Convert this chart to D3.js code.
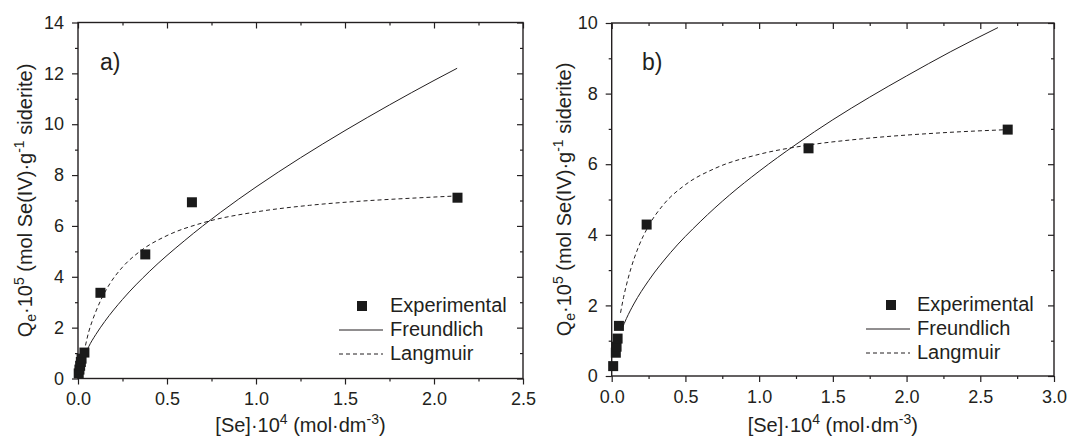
<!DOCTYPE html>
<html><head><meta charset="utf-8">
<script src="https://cdn.jsdelivr.net/npm/d3@7"></script>
<style>
body{margin:0;background:#fff;}
svg text{font-family:"Liberation Sans",Arial,sans-serif;fill:#231f20;}
</style></head><body>
<svg id="chart" width="1069" height="437"></svg>
<script>
// ---------- Panel a data ----------
const aExpX = [0.004, 0.008, 0.012, 0.016, 0.020, 0.036, 0.126, 0.378, 0.640, 2.132];
const aExpY = [0.20, 0.35, 0.50, 0.65, 0.78, 1.02, 3.37, 4.88, 6.93, 7.11];
const aFreX = [0.05, 0.06, 0.10, 0.15, 0.25, 0.40, 0.60, 0.80, 1.00, 1.25, 1.50, 1.75, 2.00, 2.13];
const aFreY = [1.10, 1.25, 1.73, 2.24, 3.11, 4.20, 5.43, 6.53, 7.53, 8.68, 9.75, 10.76, 11.72, 12.20];
const aLanX = [0.042, 0.06, 0.08, 0.10, 0.13, 0.18, 0.25, 0.35, 0.50, 0.70, 1.00, 1.30, 1.60, 1.90, 2.13];
const aLanY = [1.30, 1.83, 2.26, 2.63, 3.11, 3.74, 4.38, 5.01, 5.62, 6.12, 6.55, 6.81, 6.98, 7.10, 7.18];
const aXTicks = [0, 0.5, 1.0, 1.5, 2.0, 2.5];
const aXMinor = [0.25, 0.75, 1.25, 1.75, 2.25];
const aYTicks = [0, 2, 4, 6, 8, 10, 12, 14];
const aYMinor = [1, 3, 5, 7, 9, 11, 13];

// ---------- Panel b data ----------
const bExpX = [0.010, 0.028, 0.033, 0.040, 0.049, 0.237, 1.335, 2.686];
const bExpY = [0.28, 0.66, 0.83, 1.06, 1.42, 4.29, 6.45, 6.98];
const bFreX = [0.07, 0.10, 0.15, 0.25, 0.40, 0.60, 0.80, 1.00, 1.25, 1.50, 1.75, 2.00, 2.30, 2.62];
const bFreY = [1.34, 1.63, 2.04, 2.70, 3.50, 4.37, 5.13, 5.80, 6.56, 7.26, 7.90, 8.50, 9.19, 9.87];
const bLanX = [0.06, 0.08, 0.10, 0.13, 0.18, 0.25, 0.35, 0.50, 0.70, 1.00, 1.30, 1.70, 2.20, 2.69];
const bLanY = [1.79, 2.22, 2.58, 3.04, 3.64, 4.25, 4.85, 5.42, 5.88, 6.28, 6.52, 6.72, 6.88, 6.98];
const bXTicks = [0, 0.5, 1.0, 1.5, 2.0, 2.5, 3.0];
const bXMinor = [0.25, 0.75, 1.25, 1.75, 2.25, 2.75];
const bYTicks = [0, 2, 4, 6, 8, 10];
const bYMinor = [1, 3, 5, 7, 9];

const legendLabels = ["Experimental", "Freundlich", "Langmuir"];
const panelLabels = ["a)", "b)"];

const svg = d3.select("#chart");
const ink = "#231f20";

function drawPanel(cfg) {
  const x = d3.scaleLinear().domain(cfg.xDomain).range([cfg.left, cfg.right]);
  const y = d3.scaleLinear().domain(cfg.yDomain).range([cfg.bottom, cfg.top]);
  const g = svg.append("g");

  const fmt = d3.format(".1f");
  const bx = g.append("g").attr("transform", `translate(0,${cfg.bottom})`)
    .call(d3.axisBottom(x).tickValues(cfg.xTicks).tickFormat(fmt).tickSize(6).tickSizeOuter(0).tickPadding(8));
  const bxm = g.append("g").attr("transform", `translate(0,${cfg.bottom})`)
    .call(d3.axisBottom(x).tickValues(cfg.xMinor).tickFormat("").tickSize(3).tickSizeOuter(0));
  const tx = g.append("g").attr("transform", `translate(0,${cfg.top})`)
    .call(d3.axisBottom(x).tickValues(cfg.xTicks).tickFormat("").tickSize(6).tickSizeOuter(0));
  const txm = g.append("g").attr("transform", `translate(0,${cfg.top})`)
    .call(d3.axisBottom(x).tickValues(cfg.xMinor).tickFormat("").tickSize(3).tickSizeOuter(0));
  const ly = g.append("g").attr("transform", `translate(${cfg.left},0)`)
    .call(d3.axisLeft(y).tickValues(cfg.yTicks).tickFormat(d3.format("d")).tickSize(6).tickSizeOuter(0).tickPadding(8));
  const lym = g.append("g").attr("transform", `translate(${cfg.left},0)`)
    .call(d3.axisLeft(y).tickValues(cfg.yMinor).tickFormat("").tickSize(3).tickSizeOuter(0));
  const ry = g.append("g").attr("transform", `translate(${cfg.right},0)`)
    .call(d3.axisLeft(y).tickValues(cfg.yTicks).tickFormat("").tickSize(6).tickSizeOuter(0));
  const rym = g.append("g").attr("transform", `translate(${cfg.right},0)`)
    .call(d3.axisLeft(y).tickValues(cfg.yMinor).tickFormat("").tickSize(3).tickSizeOuter(0));

  [bx, bxm, tx, txm, ly, lym, ry, rym].forEach(a => {
    a.select(".domain").remove();
    a.selectAll("line").attr("stroke", ink).attr("stroke-width", 1.2);
    a.selectAll("text").attr("font-size", 18).attr("fill", ink)
      .attr("font-family", '"Liberation Sans", Arial, sans-serif');
  });

  g.append("rect").attr("x", cfg.left).attr("y", cfg.top)
    .attr("width", cfg.right - cfg.left).attr("height", cfg.bottom - cfg.top)
    .attr("fill", "none").attr("stroke", ink).attr("stroke-width", 1.4);

  const line = d3.line().x(d => x(d[0])).y(d => y(d[1])).curve(d3.curveMonotoneX);
  g.append("path").datum(d3.zip(cfg.freX, cfg.freY)).attr("d", line)
    .attr("fill", "none").attr("stroke", ink).attr("stroke-width", 1);
  g.append("path").datum(d3.zip(cfg.lanX, cfg.lanY)).attr("d", line)
    .attr("fill", "none").attr("stroke", ink).attr("stroke-width", 1).attr("stroke-dasharray", "4,3");

  const s = 10;
  g.selectAll("rect.pt").data(d3.zip(cfg.expX, cfg.expY)).enter().append("rect")
    .attr("class", "pt")
    .attr("x", d => x(d[0]) - s / 2).attr("y", d => y(d[1]) - s / 2)
    .attr("width", s).attr("height", s).attr("fill", "#1a1a1a");

  g.append("text").attr("x", cfg.labX).attr("y", 70).attr("font-size", 23).text(cfg.label);

  // legend
  const L = cfg.leg;
  g.append("rect").attr("x", L.mx - s / 2).attr("y", L.y0 - 6 - s / 2).attr("width", s).attr("height", s).attr("fill", "#1a1a1a");
  g.append("line").attr("x1", L.lx1).attr("x2", L.lx2).attr("y1", L.y0 + 24 - 6).attr("y2", L.y0 + 24 - 6)
    .attr("stroke", ink).attr("stroke-width", 1);
  g.append("line").attr("x1", L.lx1).attr("x2", L.lx2).attr("y1", L.y0 + 48 - 6).attr("y2", L.y0 + 48 - 6)
    .attr("stroke", ink).attr("stroke-width", 1).attr("stroke-dasharray", "4,3");
  legendLabels.forEach((t, i) => {
    g.append("text").attr("x", L.tx).attr("y", L.y0 + i * 24).attr("font-size", 20).text(t);
  });

  // x axis label
  const xl = g.append("text").attr("x", (cfg.left + cfg.right) / 2).attr("y", 432)
    .attr("text-anchor", "middle").attr("font-size", 20);
  xl.append("tspan").text("[Se]·10");
  xl.append("tspan").attr("dy", -8).attr("font-size", 14).text("4");
  xl.append("tspan").attr("dy", 8).text(" (mol·dm");
  xl.append("tspan").attr("dy", -8).attr("font-size", 14).text("-3");
  xl.append("tspan").attr("dy", 8).text(")");

  // y axis label
  const cy = (cfg.top + cfg.bottom) / 2;
  const yl = g.append("text").attr("transform", `translate(${cfg.ylx},${cy}) rotate(-90)`)
    .attr("text-anchor", "middle").attr("font-size", 20);
  yl.append("tspan").text("Q");
  yl.append("tspan").attr("dy", 4).attr("font-size", 14).text("e");
  yl.append("tspan").attr("dy", -4).text("·10");
  yl.append("tspan").attr("dy", -8).attr("font-size", 14).text("5");
  yl.append("tspan").attr("dy", 8).text(" (mol Se(IV)·g");
  yl.append("tspan").attr("dy", -8).attr("font-size", 14).text("-1");
  yl.append("tspan").attr("dy", 8).text(" siderite)");
}

drawPanel({
  left: 78, right: 523, top: 22.5, bottom: 378.5,
  xDomain: [0, 2.5], yDomain: [0, 14],
  xTicks: aXTicks, xMinor: aXMinor, yTicks: aYTicks, yMinor: aYMinor,
  expX: aExpX, expY: aExpY, freX: aFreX, freY: aFreY, lanX: aLanX, lanY: aLanY,
  label: panelLabels[0], labX: 100, ylx: 32,
  leg: { mx: 362, tx: 390, lx1: 339, lx2: 383, y0: 312 }
});
drawPanel({
  left: 611.7, right: 1054, top: 23, bottom: 376,
  xDomain: [0, 3.0], yDomain: [0, 10],
  xTicks: bXTicks, xMinor: bXMinor, yTicks: bYTicks, yMinor: bYMinor,
  expX: bExpX, expY: bExpY, freX: bFreX, freY: bFreY, lanX: bLanX, lanY: bLanY,
  label: panelLabels[1], labX: 642, ylx: 571,
  leg: { mx: 891, tx: 917, lx1: 866, lx2: 910, y0: 311 }
});
</script>
</body></html>
